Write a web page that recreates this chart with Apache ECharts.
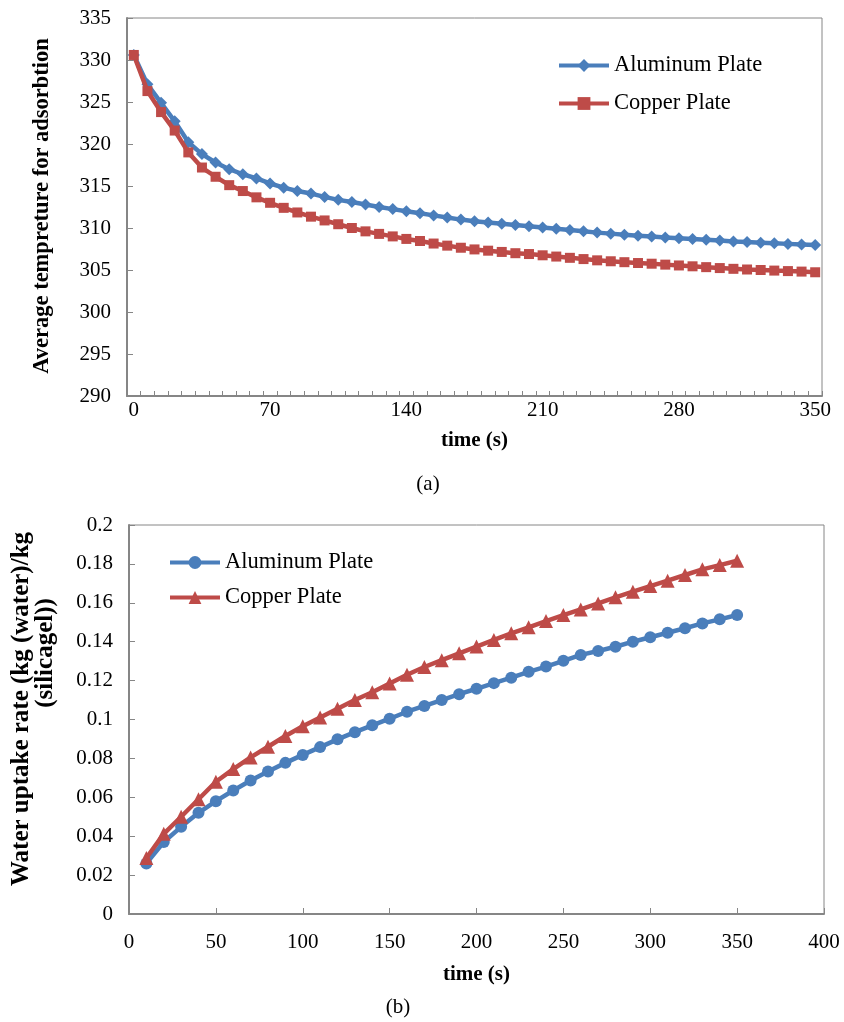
<!DOCTYPE html>
<html>
<head>
<meta charset="utf-8">
<script src="https://cdn.jsdelivr.net/npm/echarts@6/dist/echarts.min.js"></script>
<style>
  html, body { margin: 0; padding: 0; background: #fff; }
  #chart { width: 844px; height: 1022px; }
</style>
</head>
<body>
<div id="chart"></div>
<script>
// (a) average adsorption temperature, sampled every 7 s
const timeA = ['0','7','14','21','28','35','42','49','56','63','70','77','84','91','98','105','112','119','126','133','140','147','154','161','168','175','182','189','196','203','210','217','224','231','238','245','252','259','266','273','280','287','294','301','308','315','322','329','336','343','350'];
const tempAluminum = [330.6,327.1,324.9,322.7,320.2,318.8,317.8,317.0,316.4,315.9,315.3,314.8,314.4,314.1,313.7,313.35,313.1,312.8,312.5,312.25,312.0,311.75,311.5,311.25,311.0,310.8,310.65,310.5,310.35,310.2,310.05,309.9,309.75,309.6,309.45,309.33,309.2,309.09,308.98,308.88,308.78,308.69,308.59,308.5,308.4,308.32,308.25,308.17,308.11,308.05,307.99];
const tempCopper = [330.6,326.3,323.8,321.6,319.0,317.2,316.1,315.1,314.4,313.65,313.0,312.4,311.85,311.35,310.9,310.45,310.0,309.6,309.3,309.0,308.7,308.45,308.15,307.9,307.65,307.45,307.3,307.15,307.0,306.9,306.75,306.6,306.45,306.3,306.15,306.04,305.93,305.83,305.75,305.64,305.54,305.44,305.34,305.23,305.14,305.06,305.0,304.93,304.87,304.81,304.73];

// (b) water uptake, sampled every 10 s
const timeB = [10,20,30,40,50,60,70,80,90,100,110,120,130,140,150,160,170,180,190,200,210,220,230,240,250,260,270,280,290,300,310,320,330,340,350];
const uptakeAluminum = [0.026,0.037,0.0448,0.052,0.058,0.0635,0.0686,0.0733,0.0777,0.0818,0.0858,0.0898,0.0935,0.097,0.1004,0.104,0.107,0.110,0.113,0.1158,0.1187,0.1215,0.1245,0.1272,0.1302,0.1332,0.1352,0.1374,0.140,0.1423,0.1446,0.1469,0.1494,0.1515,0.1537];
const uptakeCopper = [0.0288,0.0412,0.050,0.059,0.068,0.0745,0.0805,0.086,0.0915,0.0965,0.101,0.1055,0.110,0.114,0.1185,0.123,0.127,0.1305,0.134,0.1375,0.1409,0.1443,0.1474,0.1506,0.1537,0.1566,0.1597,0.1628,0.1657,0.1686,0.1714,0.1743,0.1772,0.1794,0.1816];

const seriesNames = ['Aluminum Plate', 'Copper Plate'];
const BLUE = '#4A7EBB';
const RED = '#BE4B48';
const GRAY = '#868686';
const FONT = '"Liberation Serif", "Times New Roman", serif';

const chart = echarts.init(document.getElementById('chart'), null, { renderer: 'canvas' });

const tickLabel = { color: '#000', fontFamily: FONT, fontSize: 21 };
const axisTitle = { color: '#000', fontFamily: FONT, fontSize: 21, fontWeight: 'bold' };
const legendText = { color: '#000', fontFamily: FONT, fontSize: 22.5 };

chart.setOption({
  animation: false,
  backgroundColor: '#fff',
  textStyle: { fontFamily: FONT },
  grid: [
    { left: 127, right: 22, top: 18, bottom: 1022 - 396, show: true, borderColor: GRAY, borderWidth: 1 },
    { left: 129, right: 20, top: 525, bottom: 1022 - 914, show: true, borderColor: GRAY, borderWidth: 1 }
  ],
  legend: [
    {
      data: seriesNames.map(n => ({ name: n })),
      orient: 'vertical', left: 557, top: 54, padding: 0,
      itemWidth: 50, itemHeight: 16, itemGap: 15,
      lineStyle: { width: 4 },
      textStyle: legendText
    },
    {
      data: seriesNames.map(n => ({ name: n + ' ' })),
      orient: 'vertical', left: 168, top: 551, padding: 0,
      itemWidth: 50, itemHeight: 16, itemGap: 12,
      lineStyle: { width: 4 },
      textStyle: legendText,
      formatter: n => n.trim()
    }
  ],
  xAxis: [
    {
      gridIndex: 0, type: 'category', data: timeA, boundaryGap: true,
      name: 'time (s)', nameLocation: 'middle', nameGap: 34, nameTextStyle: axisTitle,
      axisLine: { lineStyle: { color: GRAY, width: 2 } },
      axisTick: { show: true, inside: true, length: 5, interval: 0, lineStyle: { color: GRAY } },
      axisLabel: Object.assign({ interval: 9, margin: 4 }, tickLabel),
      splitLine: { show: false }
    },
    {
      gridIndex: 1, type: 'value', min: 0, max: 400, interval: 50,
      name: 'time (s)', nameLocation: 'middle', nameGap: 50, nameTextStyle: axisTitle,
      axisLine: { onZero: false, lineStyle: { color: GRAY, width: 2 } },
      axisTick: { show: true, inside: true, length: 6, lineStyle: { color: GRAY } },
      axisLabel: Object.assign({ margin: 18 }, tickLabel),
      splitLine: { show: false }
    }
  ],
  yAxis: [
    {
      gridIndex: 0, type: 'value', min: 290, max: 335, interval: 5,
      axisLine: { show: true, lineStyle: { color: GRAY, width: 2 } },
      axisTick: { show: true, inside: true, length: 6, lineStyle: { color: GRAY } },
      axisLabel: Object.assign({ margin: 16 }, tickLabel),
      splitLine: { show: false }
    },
    {
      gridIndex: 1, type: 'value', min: 0, max: 0.2, interval: 0.02,
      axisLine: { show: true, onZero: false, lineStyle: { color: GRAY, width: 2 } },
      axisTick: { show: true, inside: true, length: 6, lineStyle: { color: GRAY } },
      axisLabel: Object.assign({ margin: 16 }, tickLabel),
      splitLine: { show: false }
    }
  ],
  series: [
    {
      name: seriesNames[0], type: 'line', xAxisIndex: 0, yAxisIndex: 0,
      data: tempAluminum, symbol: 'diamond', symbolSize: 12, showAllSymbol: true,
      lineStyle: { color: BLUE, width: 4.5 }, itemStyle: { color: BLUE }, z: 3
    },
    {
      name: seriesNames[1], type: 'line', xAxisIndex: 0, yAxisIndex: 0,
      data: tempCopper, symbol: 'rect', symbolSize: 10, showAllSymbol: true,
      lineStyle: { color: RED, width: 4.5 }, itemStyle: { color: RED }, z: 4
    },
    {
      name: seriesNames[0] + ' ', type: 'line', xAxisIndex: 1, yAxisIndex: 1,
      data: timeB.map((t, i) => [t, uptakeAluminum[i]]), symbol: 'circle', symbolSize: 12, showAllSymbol: true,
      lineStyle: { color: BLUE, width: 4.5 }, itemStyle: { color: BLUE }, z: 3
    },
    {
      name: seriesNames[1] + ' ', type: 'line', xAxisIndex: 1, yAxisIndex: 1,
      data: timeB.map((t, i) => [t, uptakeCopper[i]]), symbol: 'triangle', symbolSize: 14, showAllSymbol: true,
      lineStyle: { color: RED, width: 4.5 }, itemStyle: { color: RED }, z: 4
    }
  ],
  graphic: [
    {
      type: 'text', x: 42, y: 206, rotation: Math.PI / 2,
      style: { text: 'Average tempreture for adsorbtion', fill: '#000', font: 'bold 22.5px ' + FONT, align: 'center', verticalAlign: 'middle' }
    },
    {
      type: 'text', x: 22, y: 709, rotation: Math.PI / 2,
      style: { text: 'Water uptake rate (kg (water)/kg', fill: '#000', font: 'bold 25px ' + FONT, align: 'center', verticalAlign: 'middle' }
    },
    {
      type: 'text', x: 46, y: 653, rotation: Math.PI / 2,
      style: { text: '(silicagel))', fill: '#000', font: 'bold 25px ' + FONT, align: 'center', verticalAlign: 'middle' }
    },
    {
      type: 'text', x: 428, y: 484,
      style: { text: '(a)', fill: '#000', font: '21px ' + FONT, align: 'center', verticalAlign: 'middle' }
    },
    {
      type: 'text', x: 398, y: 1007,
      style: { text: '(b)', fill: '#000', font: '21px ' + FONT, align: 'center', verticalAlign: 'middle' }
    }
  ]
});
</script>
</body>
</html>
